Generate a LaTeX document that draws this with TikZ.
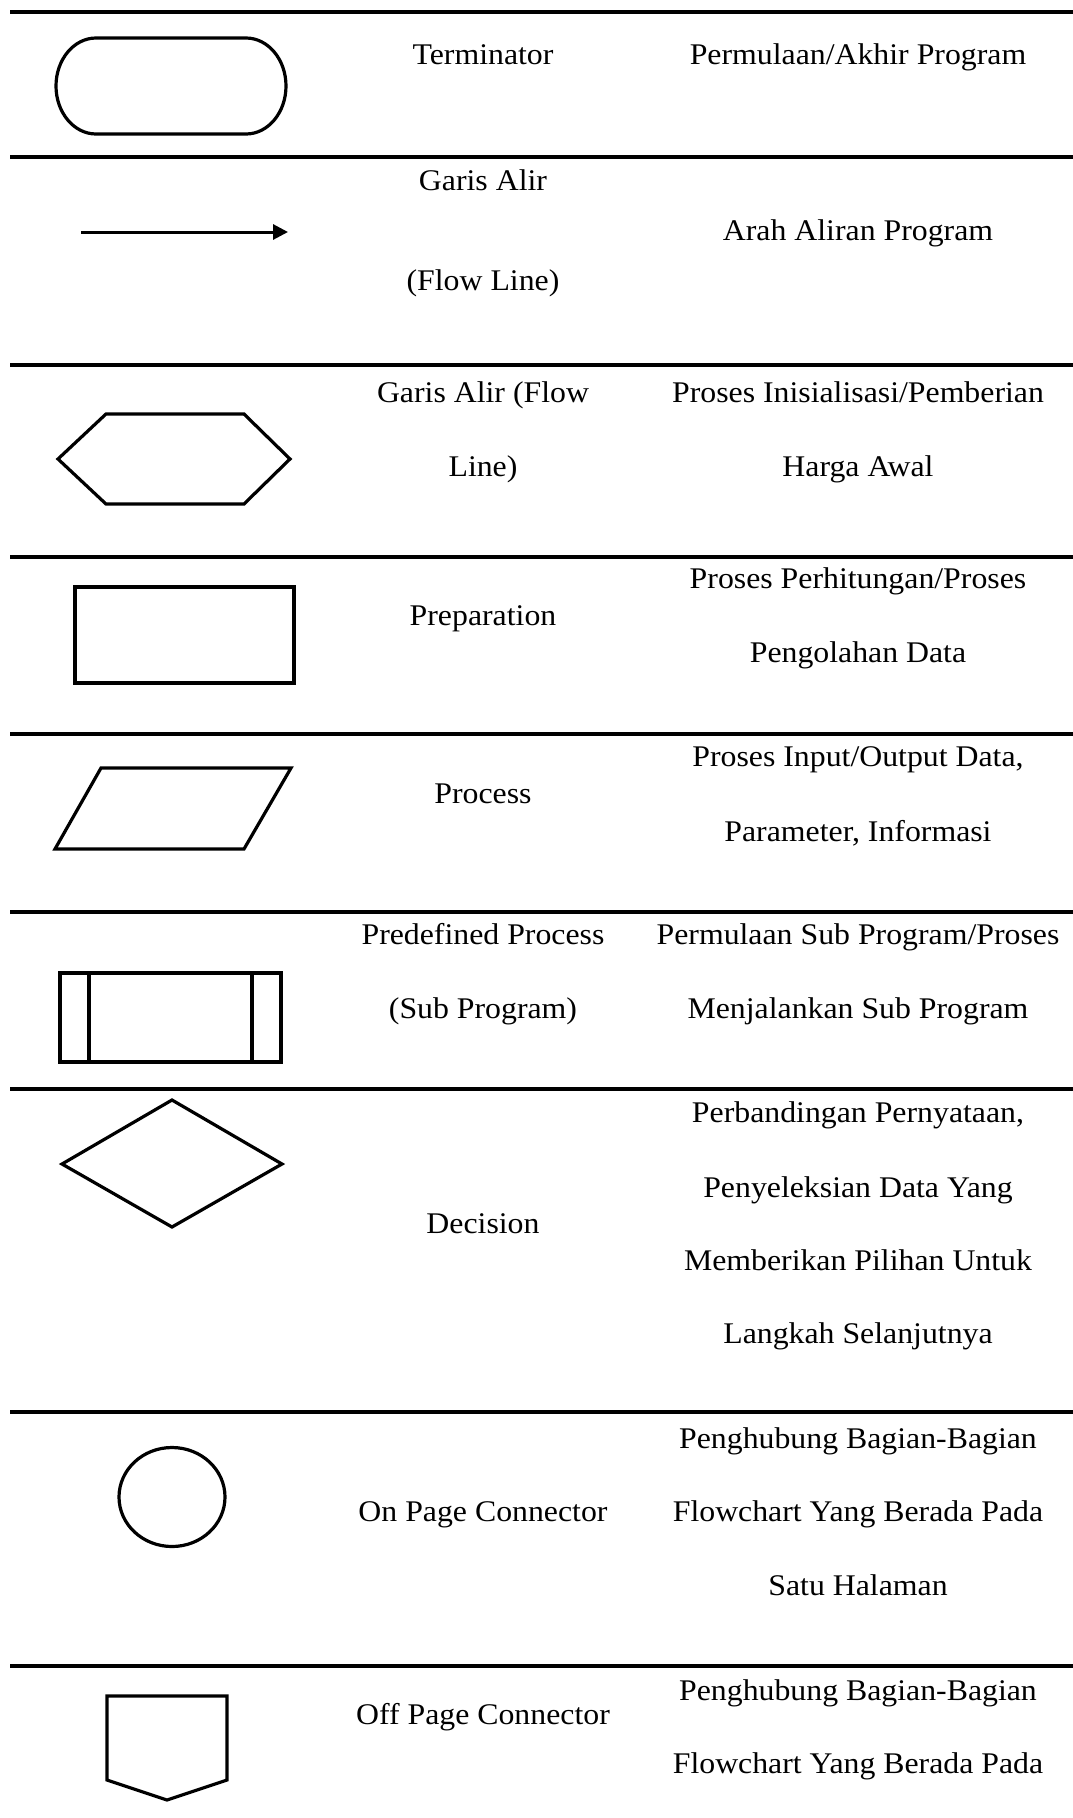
\documentclass[tikz,border=0pt]{standalone}
\usepackage{fontspec}
\setmainfont{Liberation Serif}
\usepackage{tikz}
\usetikzlibrary{arrows.meta}
\newcommand{\symfont}{\fontsize{30}{36}\selectfont}

\begin{document}
\begin{tikzpicture}[x=1pt, y=-1pt,
    rule/.style={line width=3.5pt},
    sym/.style={line width=3.2pt, line join=miter},
    lbl/.style={anchor=base, font=\symfont, xscale=1.06, inner sep=0pt},
    flowarrow/.style={line width=3pt, -{Triangle[length=15pt, width=15pt]}}]

  \useasboundingbox (0, 0) rectangle (1073, 1818);

  % table rules
  \foreach \y in {12, 157, 365, 557, 734, 912, 1089, 1412, 1666}
    \draw[rule] (10, \y) -- (1073, \y);

  % terminator
  \draw[sym] (96, 38) -- (246, 38)
    arc[start angle=-90, end angle=90, x radius=40, y radius=48]
    -- (96, 134)
    arc[start angle=90, end angle=270, x radius=40, y radius=48] -- cycle;
  \node[lbl] (termname) at (483, 64) {Terminator};
  \node[lbl] (termdesc) at (858, 64) {Permulaan/Akhir Program};

  % flow line
  \coordinate (flowstart) at (81, 232);
  \coordinate (flowend) at (288, 232);
  \draw[flowarrow] (flowstart) -- (flowend);
  \node[lbl] (flowname) at (483, 190) {Garis Alir};
  \node[lbl] (flowname2) at (483, 290) {(Flow Line)};
  \node[lbl] (flowdesc) at (858, 240) {Arah Aliran Program};

  % preparation (hexagon)
  \draw[sym] (58, 459) -- (106, 414) -- (244, 414) -- (290, 459)
    -- (244, 504) -- (106, 504) -- cycle;
  \node[lbl] (hexname) at (483, 402) {Garis Alir (Flow};
  \node[lbl] (hexname2) at (483, 476) {Line)};
  \node[lbl] (hexdesc) at (858, 402) {Proses Inisialisasi/Pemberian};
  \node[lbl] (hexdesc2) at (858, 476) {Harga Awal};

  % process (rectangle)
  \draw[sym] (75, 587) rectangle (294, 683);
  \node[lbl] (rectname) at (483, 625) {Preparation};
  \node[lbl] (rectdesc) at (858, 588) {Proses Perhitungan/Proses};
  \node[lbl] (rectdesc2) at (858, 662) {Pengolahan Data};

  % input/output (parallelogram)
  \draw[sym] (101, 768) -- (291, 768) -- (244, 849) -- (55, 849) -- cycle;
  \node[lbl] (ioname) at (483, 803) {Process};
  \node[lbl] (iodesc) at (858, 766) {Proses Input/Output Data,};
  \node[lbl] (iodesc2) at (858, 841) {Parameter, Informasi};

  % predefined process
  \draw[sym] (60, 973) rectangle (281, 1062);
  \draw[sym] (89, 973) -- (89, 1062);
  \draw[sym] (252, 973) -- (252, 1062);
  \node[lbl] (subname) at (483, 944) {Predefined Process};
  \node[lbl] (subname2) at (483, 1018) {(Sub Program)};
  \node[lbl] (subdesc) at (858, 944) {Permulaan Sub Program/Proses};
  \node[lbl] (subdesc2) at (858, 1018) {Menjalankan Sub Program};

  % decision
  \draw[sym] (172, 1100) -- (282, 1164) -- (172, 1227) -- (62, 1164) -- cycle;
  \node[lbl] (decname) at (483, 1233) {Decision};
  \node[lbl] (decdesc) at (858, 1122) {Perbandingan Pernyataan,};
  \node[lbl] (decdesc2) at (858, 1197) {Penyeleksian Data Yang};
  \node[lbl] (decdesc3) at (858, 1270) {Memberikan Pilihan Untuk};
  \node[lbl] (decdesc4) at (858, 1343) {Langkah Selanjutnya};

  % on page connector
  \draw[sym] (172, 1497) ellipse (53 and 49.5);
  \node[lbl] (onname) at (483, 1521) {On Page Connector};
  \node[lbl] (ondesc) at (858, 1448) {Penghubung Bagian-Bagian};
  \node[lbl] (ondesc2) at (858, 1521) {Flowchart Yang Berada Pada};
  \node[lbl] (ondesc3) at (858, 1595) {Satu Halaman};

  % off page connector
  \draw[sym] (107, 1696) -- (227, 1696) -- (227, 1780) -- (167, 1800)
    -- (107, 1780) -- cycle;
  \node[lbl] (offname) at (483, 1724) {Off Page Connector};
  \node[lbl] (offdesc) at (858, 1700) {Penghubung Bagian-Bagian};
  \node[lbl] (offdesc2) at (858, 1773) {Flowchart Yang Berada Pada};

\end{tikzpicture}
\end{document}
